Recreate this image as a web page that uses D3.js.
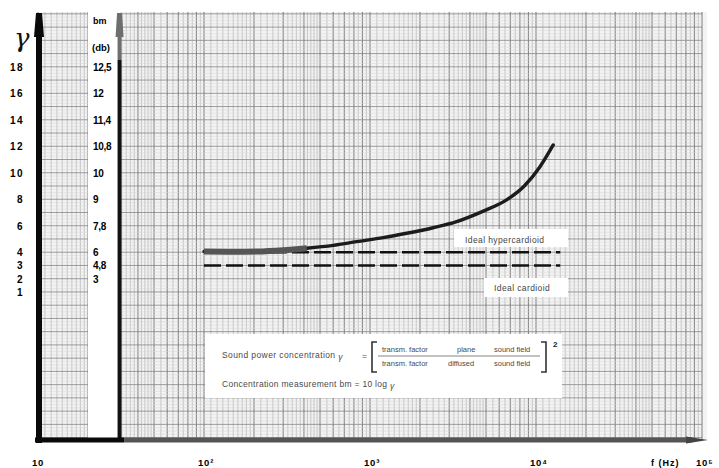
<!DOCTYPE html>
<html>
<head>
<meta charset="utf-8">
<script src="https://cdn.jsdelivr.net/npm/d3@7"></script>
<style>
  body { margin: 0; background: #fff; }
  svg { display: block; font-family: "Liberation Sans", Arial, sans-serif; }
</style>
</head>
<body>
<div id="chart"></div>
<script>
// values
const freqLabels = [10, 100, 1000, 10000, 100000];
const freqLabelText = ['10', '10²', '10³', '10⁴', '10⁵'];
const gammaTicks = [18, 16, 14, 12, 10, 8, 6, 4, 3, 2, 1];
const bmTicks = ['12,5', '12', '11,4', '10,8', '10', '9', '7,8', '6', '4,8', '3'];

// measured curve: frequency (Hz) and gamma
const curveFreq = [100, 150, 207, 300, 416, 600, 831, 1200, 1663, 2400, 3325, 4700, 6650, 8500, 10570, 12700];
const curveGamma = [4.05, 4.03, 4.05, 4.15, 4.3, 4.52, 4.8, 5.1, 5.43, 5.85, 6.31, 7.05, 7.95, 9.0, 10.46, 12.1];

const idealFreq = [100, 14000];
const hypercardioid = 4;
const cardioid = 3;

const width = 719, height = 468;

const svg = d3.select('#chart').append('svg')
  .attr('width', width)
  .attr('height', height);

const x = d3.scaleLog().domain([10, 1e5]).range([38, 702]);
const y = d3.scaleLinear().domain([-10.18, 22.14]).range([440, 12]);

const gridTop = y(22.14), gridBottom = y(-10.18);

// paper
svg.append('rect')
  .attr('x', x(10)).attr('y', gridTop)
  .attr('width', x(1e5) - x(10) + 5).attr('height', gridBottom - gridTop)
  .attr('fill', '#f3f3f3');

const grid = svg.append('g').attr('class', 'grid');

// vertical log grid
const vMinor = [], vMajor = [];
for (let d = 10; d < 1e5; d *= 10) {
  for (let k = 1; k < 10; k++) vMajor.push(k * d);
  for (let k = 1.1; k < 1.95; k += 0.1) vMinor.push(k * d);
  for (let k = 2.2; k < 4.95; k += 0.2) if (Math.abs(k - Math.round(k)) > 0.05) vMinor.push(k * d);
  for (let k = 5.5; k < 9.9; k += 1) vMinor.push(k * d);
}
vMajor.push(1e5);

grid.selectAll('.vminor').data(vMinor).enter().append('line')
  .attr('class', 'vminor')
  .attr('x1', d => x(d)).attr('x2', d => x(d))
  .attr('y1', gridTop).attr('y2', gridBottom)
  .attr('stroke', '#aaa').attr('stroke-width', 0.6);

grid.selectAll('.vmajor').data(vMajor).enter().append('line')
  .attr('class', 'vmajor')
  .attr('x1', d => x(d)).attr('x2', d => x(d))
  .attr('y1', gridTop).attr('y2', gridBottom)
  .attr('stroke', '#6e6e6e').attr('stroke-width', 0.9);

// horizontal grid
const hMinor = d3.range(-10, 22.1, 0.25).filter(v => Math.abs(v - Math.round(v)) > 0.01);
const hMajor = d3.range(-10, 23, 1);

grid.selectAll('.hminor').data(hMinor).enter().append('line')
  .attr('x1', x(10)).attr('x2', x(1e5))
  .attr('y1', d => y(d)).attr('y2', d => y(d))
  .attr('stroke', '#d6d6d6').attr('stroke-width', 0.5);

grid.selectAll('.hmajor').data(hMajor).enter().append('line')
  .attr('x1', x(10)).attr('x2', x(1e5))
  .attr('y1', d => y(d)).attr('y2', d => y(d))
  .attr('stroke', '#858585').attr('stroke-width', 0.8);

// blank column holding the bm labels
svg.append('rect')
  .attr('x', x(20)).attr('y', 0)
  .attr('width', x(31) - x(20)).attr('height', gridBottom)
  .attr('fill', '#fff');

// ideal lines
const ideal = svg.append('g');
[hypercardioid, cardioid].forEach(g => {
  ideal.append('line')
    .attr('x1', x(idealFreq[0])).attr('x2', x(idealFreq[1]))
    .attr('y1', y(g)).attr('y2', y(g))
    .attr('stroke', '#111').attr('stroke-width', 2.6)
    .attr('stroke-dasharray', '17,5');
});

// measured curve
const line = d3.line()
  .x((d, i) => x(curveFreq[i]))
  .y(d => y(d))
  .curve(d3.curveMonotoneX);

svg.append('path')
  .datum(curveGamma)
  .attr('d', line)
  .attr('fill', 'none')
  .attr('stroke', '#1c1c1c')
  .attr('stroke-width', 3.4)
  .attr('stroke-linecap', 'round');

// thicker grey start where curve sits on the hypercardioid line
svg.append('path')
  .datum(curveGamma.slice(0, 5))
  .attr('d', line)
  .attr('fill', 'none')
  .attr('stroke', '#555')
  .attr('stroke-width', 6);

// labels for the ideal lines
const lbl = svg.append('g')
  .attr('font-size', 8.5).attr('fill', '#444').attr('letter-spacing', 0.4);
lbl.append('rect').attr('x', 454).attr('y', 229).attr('width', 114).attr('height', 18).attr('fill', '#fff');
lbl.append('text').attr('x', 465).attr('y', 243).text('Ideal hypercardioid');
lbl.append('rect').attr('x', 484).attr('y', 278).attr('width', 84).attr('height', 19).attr('fill', '#fff');
lbl.append('text').attr('x', 494).attr('y', 291).text('Ideal cardioid');

// annotation box
const note = svg.append('g').attr('font-size', 8.5).attr('fill', '#4a4a4a');
note.append('rect').attr('x', 205).attr('y', 334).attr('width', 357).attr('height', 64).attr('fill', '#fff');
const t1 = note.append('text').attr('x', 222).attr('y', 358).attr('letter-spacing', 0.4);
t1.append('tspan').text('Sound power concentration ');
t1.append('tspan').attr('font-style', 'italic').attr('dy', 2).text('γ');
note.append('text').attr('x', 362).attr('y', 359).text('=');
note.append('path')
  .attr('d', 'M377,342 H372 V372 H377 M541,342 H546 V372 H541')
  .attr('fill', 'none').attr('stroke', '#333').attr('stroke-width', 1.6);
note.append('line')
  .attr('x1', 378).attr('x2', 540).attr('y1', 356).attr('y2', 356)
  .attr('stroke', '#666').attr('stroke-width', 0.8);
note.append('text').attr('x', 553).attr('y', 347).attr('font-size', 8).attr('font-weight', 'bold').attr('fill', '#222').text('2');
const numer = [['transm. factor', 382], ['plane', 457], ['sound field', 494]];
const denom = [['transm. factor', 382], ['diffused', 448], ['sound field', 494]];
note.selectAll('.num').data(numer).enter().append('text')
  .attr('x', d => d[1]).attr('y', 352).attr('font-size', 7.5).text(d => d[0]);
note.selectAll('.den').data(denom).enter().append('text')
  .attr('x', d => d[1]).attr('y', 366).attr('font-size', 7.5).text(d => d[0]);
const t2 = note.append('text').attr('x', 222).attr('y', 387).attr('letter-spacing', 0.3);
t2.append('tspan').text('Concentration measurement bm = 10 log ');
t2.append('tspan').attr('font-style', 'italic').attr('dy', 2).text('γ');

// gamma axis
const axisX = x(10) + 1;
svg.append('line')
  .attr('x1', axisX).attr('x2', axisX).attr('y1', 34).attr('y2', gridBottom + 3)
  .attr('stroke', '#0a0a0a').attr('stroke-width', 6);
svg.append('path')
  .attr('d', `M${axisX - 3},13 L${axisX + 3},13 L${axisX + 5},37 L${axisX - 5},37 Z`)
  .attr('fill', '#0a0a0a');

// bm axis
const bmX = x(31);
svg.append('line')
  .attr('x1', bmX).attr('x2', bmX).attr('y1', 36).attr('y2', 60)
  .attr('stroke', '#6e6e6e').attr('stroke-width', 4);
svg.append('line')
  .attr('x1', bmX).attr('x2', bmX).attr('y1', 60).attr('y2', gridBottom)
  .attr('stroke', '#111').attr('stroke-width', 4);
svg.append('path')
  .attr('d', `M${bmX - 2.5},13 L${bmX + 2.5},13 L${bmX + 4},37 L${bmX - 4},37 Z`)
  .attr('fill', '#6e6e6e');

// frequency axis
svg.append('line')
  .attr('x1', x(10) - 3).attr('x2', x(33)).attr('y1', gridBottom).attr('y2', gridBottom)
  .attr('stroke', '#0a0a0a').attr('stroke-width', 5);
svg.append('line')
  .attr('x1', x(33)).attr('x2', 692).attr('y1', gridBottom).attr('y2', gridBottom)
  .attr('stroke', '#555').attr('stroke-width', 5);
svg.append('path')
  .attr('d', `M686,${gridBottom - 3.5} L708,${gridBottom} L686,${gridBottom + 3.5} Z`)
  .attr('fill', '#444');

// gamma tick labels
svg.append('g').selectAll('text').data(gammaTicks).enter().append('text')
  .attr('x', 24).attr('y', d => y(d) + 4)
  .attr('text-anchor', 'end')
  .attr('font-size', 10).attr('font-weight', 'bold').attr('letter-spacing', 1.5)
  .text(d => d);

// bm tick labels
svg.append('g').selectAll('text').data(bmTicks).enter().append('text')
  .attr('x', 93).attr('y', (d, i) => y(gammaTicks[i]) + 4)
  .attr('font-size', 10).attr('font-weight', 'bold').attr('letter-spacing', -0.3)
  .text(d => d);

// axis titles
svg.append('text').attr('x', 14).attr('y', 47)
  .attr('font-family', '"DejaVu Serif", serif').attr('font-style', 'italic')
  .attr('font-size', 26).attr('fill', '#111').text('γ');
svg.append('text').attr('x', 93).attr('y', 24)
  .attr('font-size', 9).attr('font-weight', 'bold').text('bm');
svg.append('text').attr('x', 92).attr('y', 51)
  .attr('font-size', 9.5).attr('font-weight', 'bold').text('(db)');

// frequency tick labels
svg.append('g').selectAll('text').data(freqLabels).enter().append('text')
  .attr('x', d => x(d) - 6).attr('y', 466)
  .attr('font-size', 9.5).attr('font-weight', 'bold').attr('letter-spacing', 0.8)
  .text((d, i) => freqLabelText[i]);
svg.append('text').attr('x', 651).attr('y', 466)
  .attr('font-size', 9).attr('font-weight', 'bold').attr('letter-spacing', 1)
  .text('f (Hz)');
</script>
</body>
</html>
